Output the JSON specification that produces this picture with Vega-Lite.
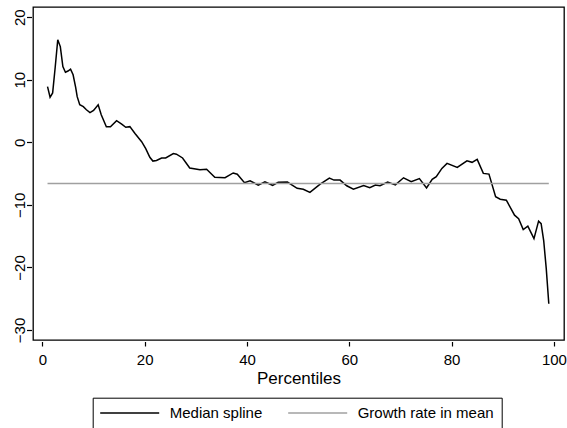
{
  "$schema": "https://vega.github.io/schema/vega-lite/v6.json",
  "width": 531,
  "height": 333,
  "autosize": {"type": "none"},
  "padding": {"left": 33, "top": 7, "right": 3, "bottom": 88},
  "background": "white",
  "config": {
    "font": "Liberation Sans",
    "view": {"stroke": "black", "strokeWidth": 1.3},
    "axis": {
      "domain": false,
      "grid": false,
      "labelFont": "Liberation Sans",
      "labelFontSize": 15,
      "labelColor": "black",
      "tickColor": "black",
      "tickWidth": 1.2,
      "titleFont": "Liberation Sans",
      "titleFontSize": 17,
      "titleFontWeight": "normal",
      "titleColor": "black",
      "labelFlush": false,
      "labelOverlap": false
    }
  },
  "data": {
    "values": [
      {"p": 1, "v": 8.9, "series": "Median spline"},
      {"p": 1.5, "v": 7.2, "series": "Median spline"},
      {"p": 2, "v": 7.9, "series": "Median spline"},
      {"p": 2.5, "v": 12.0, "series": "Median spline"},
      {"p": 3, "v": 16.4, "series": "Median spline"},
      {"p": 3.5, "v": 15.3, "series": "Median spline"},
      {"p": 4, "v": 12.1, "series": "Median spline"},
      {"p": 4.5, "v": 11.2, "series": "Median spline"},
      {"p": 5, "v": 11.4, "series": "Median spline"},
      {"p": 5.5, "v": 11.7, "series": "Median spline"},
      {"p": 6, "v": 10.8, "series": "Median spline"},
      {"p": 6.5, "v": 8.8, "series": "Median spline"},
      {"p": 6.8, "v": 7.3, "series": "Median spline"},
      {"p": 7.3, "v": 6.0, "series": "Median spline"},
      {"p": 8, "v": 5.7, "series": "Median spline"},
      {"p": 8.6, "v": 5.2, "series": "Median spline"},
      {"p": 9.3, "v": 4.75, "series": "Median spline"},
      {"p": 10, "v": 5.1, "series": "Median spline"},
      {"p": 10.9, "v": 6.0, "series": "Median spline"},
      {"p": 11.5, "v": 4.4, "series": "Median spline"},
      {"p": 12.5, "v": 2.5, "series": "Median spline"},
      {"p": 13.3, "v": 2.5, "series": "Median spline"},
      {"p": 14.5, "v": 3.46, "series": "Median spline"},
      {"p": 15.5, "v": 2.9, "series": "Median spline"},
      {"p": 16.3, "v": 2.4, "series": "Median spline"},
      {"p": 17.1, "v": 2.5, "series": "Median spline"},
      {"p": 18.1, "v": 1.4, "series": "Median spline"},
      {"p": 19.4, "v": 0.1, "series": "Median spline"},
      {"p": 20.2, "v": -1.0, "series": "Median spline"},
      {"p": 21.0, "v": -2.4, "series": "Median spline"},
      {"p": 21.6, "v": -3.0, "series": "Median spline"},
      {"p": 22.3, "v": -2.9, "series": "Median spline"},
      {"p": 23.3, "v": -2.5, "series": "Median spline"},
      {"p": 24.1, "v": -2.5, "series": "Median spline"},
      {"p": 25.6, "v": -1.8, "series": "Median spline"},
      {"p": 26.2, "v": -1.9, "series": "Median spline"},
      {"p": 27.4, "v": -2.5, "series": "Median spline"},
      {"p": 28.8, "v": -4.1, "series": "Median spline"},
      {"p": 30.8, "v": -4.4, "series": "Median spline"},
      {"p": 32.1, "v": -4.3, "series": "Median spline"},
      {"p": 33.7, "v": -5.6, "series": "Median spline"},
      {"p": 35.7, "v": -5.65, "series": "Median spline"},
      {"p": 37.3, "v": -4.9, "series": "Median spline"},
      {"p": 38.1, "v": -5.1, "series": "Median spline"},
      {"p": 39.5, "v": -6.45, "series": "Median spline"},
      {"p": 40.6, "v": -6.15, "series": "Median spline"},
      {"p": 42.2, "v": -6.84, "series": "Median spline"},
      {"p": 43.5, "v": -6.3, "series": "Median spline"},
      {"p": 45.0, "v": -6.87, "series": "Median spline"},
      {"p": 46.1, "v": -6.38, "series": "Median spline"},
      {"p": 47.9, "v": -6.35, "series": "Median spline"},
      {"p": 49.8, "v": -7.35, "series": "Median spline"},
      {"p": 51.0, "v": -7.5, "series": "Median spline"},
      {"p": 52.3, "v": -8.0, "series": "Median spline"},
      {"p": 54.3, "v": -6.7, "series": "Median spline"},
      {"p": 56.1, "v": -5.72, "series": "Median spline"},
      {"p": 57.0, "v": -6.04, "series": "Median spline"},
      {"p": 58.2, "v": -6.04, "series": "Median spline"},
      {"p": 59.5, "v": -6.95, "series": "Median spline"},
      {"p": 60.8, "v": -7.48, "series": "Median spline"},
      {"p": 62.8, "v": -6.9, "series": "Median spline"},
      {"p": 64.0, "v": -7.27, "series": "Median spline"},
      {"p": 65.1, "v": -6.84, "series": "Median spline"},
      {"p": 66.0, "v": -6.95, "series": "Median spline"},
      {"p": 67.5, "v": -6.36, "series": "Median spline"},
      {"p": 69.0, "v": -6.8, "series": "Median spline"},
      {"p": 70.6, "v": -5.67, "series": "Median spline"},
      {"p": 72.1, "v": -6.3, "series": "Median spline"},
      {"p": 73.7, "v": -5.8, "series": "Median spline"},
      {"p": 75.1, "v": -7.3, "series": "Median spline"},
      {"p": 76.2, "v": -5.93, "series": "Median spline"},
      {"p": 77.0, "v": -5.5, "series": "Median spline"},
      {"p": 78.1, "v": -4.17, "series": "Median spline"},
      {"p": 79.1, "v": -3.37, "series": "Median spline"},
      {"p": 81.1, "v": -4.0, "series": "Median spline"},
      {"p": 83.0, "v": -2.95, "series": "Median spline"},
      {"p": 84.0, "v": -3.2, "series": "Median spline"},
      {"p": 85.0, "v": -2.72, "series": "Median spline"},
      {"p": 86.2, "v": -4.97, "series": "Median spline"},
      {"p": 87.3, "v": -5.08, "series": "Median spline"},
      {"p": 88.6, "v": -8.7, "series": "Median spline"},
      {"p": 89.5, "v": -9.1, "series": "Median spline"},
      {"p": 90.7, "v": -9.25, "series": "Median spline"},
      {"p": 92.3, "v": -11.65, "series": "Median spline"},
      {"p": 93.1, "v": -12.2, "series": "Median spline"},
      {"p": 94.0, "v": -13.95, "series": "Median spline"},
      {"p": 94.9, "v": -13.4, "series": "Median spline"},
      {"p": 96.1, "v": -15.4, "series": "Median spline"},
      {"p": 97.0, "v": -12.6, "series": "Median spline"},
      {"p": 97.5, "v": -13.0, "series": "Median spline"},
      {"p": 98.0, "v": -15.7, "series": "Median spline"},
      {"p": 98.5, "v": -20.2, "series": "Median spline"},
      {"p": 99.0, "v": -25.8, "series": "Median spline"},
      {"p": 1, "v": -6.6, "series": "Growth rate in mean"},
      {"p": 99, "v": -6.6, "series": "Growth rate in mean"}
    ]
  },
  "mark": {"type": "line", "strokeWidth": 1.5},
  "encoding": {
    "x": {
      "field": "p",
      "type": "quantitative",
      "scale": {"domain": [-1.84, 101.97], "nice": false, "zero": false},
      "axis": {
        "title": "Percentiles",
        "values": [0, 20, 40, 60, 80, 100],
        "offset": 1.5,
        "tickSize": 4.5,
        "labelPadding": 6,
        "titlePadding": 3
      }
    },
    "y": {
      "field": "v",
      "type": "quantitative",
      "scale": {"domain": [-31.6, 21.63], "nice": false, "zero": false},
      "axis": {
        "title": null,
        "values": [-30, -20, -10, 0, 10, 20],
        "offset": 1.5,
        "tickSize": 5,
        "labelAngle": -90,
        "labelAlign": "center",
        "labelBaseline": "alphabetic",
        "labelPadding": 2
      }
    },
    "color": {
      "field": "series",
      "type": "nominal",
      "scale": {"domain": ["Median spline", "Growth rate in mean"], "range": ["#000000", "#a0a0a0"]},
      "legend": {
        "title": null,
        "orient": "none",
        "legendX": 59.7,
        "legendY": 390.7,
        "direction": "horizontal",
        "symbolType": "M-8,0H8",
        "symbolSize": 54.4,
        "symbolStrokeWidth": 1.5,
        "symbolOffset": 22,
        "labelOffset": 32.5,
        "columnPadding": 21,
        "padding": 7.5,
        "strokeColor": "black",
        "fillColor": "white",
        "labelFont": "Liberation Sans",
        "labelFontSize": 15,
        "labelColor": "black"
      }
    }
  }
}
